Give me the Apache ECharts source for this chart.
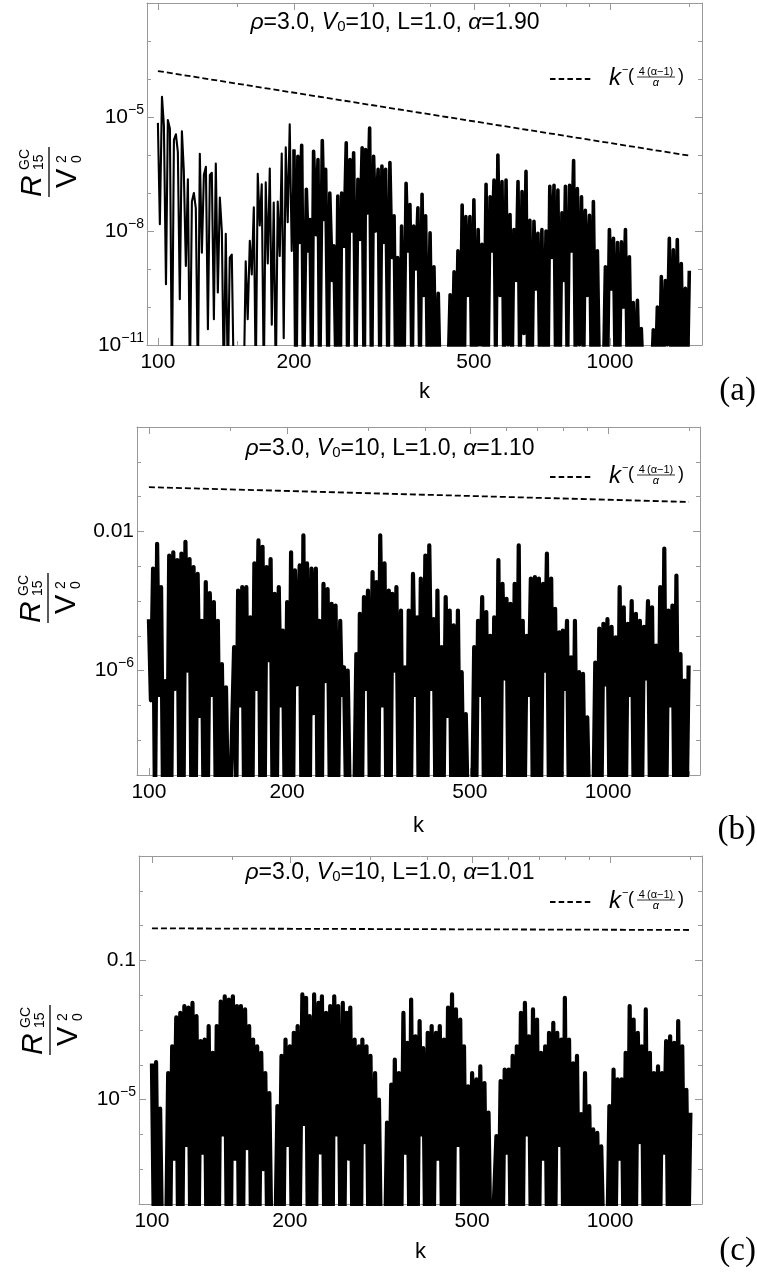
<!DOCTYPE html>
<html><head><meta charset="utf-8">
<script src="https://cdn.jsdelivr.net/npm/echarts@6/dist/echarts.min.js"></script>
<style>html,body{margin:0;padding:0;background:#fff}#c{width:757px;height:1285px}</style>
</head><body><div id="c"></div>
<script>
// ---------------- data ----------------
const K = [
100,101,102.1,103.1,104.2,105.2,106.3,107.4,108.5,109.6,
110.7,111.8,113,114.1,115.3,116.5,117.7,118.9,120.1,121.3,
122.6,123.8,125.1,126.4,127.7,129,130.3,131.6,133,134.3,
135.7,137.1,138.5,139.9,141.3,142.8,144.2,145.7,147.2,148.7,
150.2,151.7,153.3,154.9,156.4,158,159.7,161.3,163,164.6,
166.3,168,169.7,171.5,173.2,175,176.8,178.6,180.4,182.3,
184.1,186,187.9,189.8,191.8,193.7,195.7,197.7,
200,202,204,206,208,210,213,215,217,219,
221,224,226,228,231,233,235,238,240,243,
245,248,250,253,255,258,261,263,266,269,
271,274,277,280,283,286,288,291,294,297,
300,303,307,310,313,316,319,323,326,329,
333,336,339,343,346,350,354,357,361,365,
368,372,376,380,384,387,391,395,
400,404,408,412,417,421,425,430,434,438,
443,447,452,456,461,466,471,476,480,485,
490,495,500,506,511,516,521,526,532,537,
543,548,554,559,565,571,577,583,589,595,
601,607,613,620,626,632,639,645,652,658,
665,672,679,686,693,700,707,714,722,729,
736,744,752,759,767,775,783,791,
797,805,814,822,831,839,847,856,865,874,
882,891,901,910,919,929,938,948,957,967,
977,987,997,1008,1018,1028,1039,1049,1060,1071,
1082,1093,1104,1115,1126,1138,1150,1162,1173,1185,
1197,1209,1222,1235,1247,1260,1273,1286,1299,1312,
1326,1339,1353,1367,1381,1395,1409,1424,1438,1453,
1468,1483,1498
];

// panel (a), alpha = 1.90
const R_A = [
7e-6,1.5e-8,3.4e-5,6e-6,4e-10,8.3e-6,5e-6,1e-12,2.5e-6,3.5e-6,
1.2e-6,1.6e-10,4.2e-6,4e-7,1.2e-9,2.3e-7,1e-12,6e-8,1e-7,4e-8,
1e-12,1.07e-6,2.7e-9,3e-7,4.9e-7,2.6e-11,3e-7,3.4e-7,4.8e-11,6e-7,
2.4e-10,7.6e-8,1e-8,1e-12,8.5e-9,1e-12,2e-9,2.4e-9,1e-12,1e-12,
1e-12,1e-12,1e-12,1e-12,1.6e-9,4.8e-11,5.5e-9,7.2e-10,4.2e-8,1e-12,
3.2e-7,1.4e-8,1.7e-7,1e-12,1.9e-7,1.4e-9,4.4e-7,3.4e-11,5.6e-8,1e-12,
6e-8,2.2e-9,1.1e-6,1.5e-11,1.6e-6,1.7e-8,6.4e-6,3e-9,1.4e-6,1e-12,
9.3e-7,5e-9,1.8e-6,1e-12,1.25e-7,3e-9,2e-8,1e-12,1.26e-6,8e-9,
7.6e-7,1e-12,2.4e-6,2e-8,4.2e-7,1e-12,1e-7,5e-10,4.1e-9,1e-12,
8.3e-8,1e-12,1e-7,4e-9,2.1e-6,1e-12,7.6e-7,1e-8,1.15e-6,1e-12,
2.3e-7,6e-9,1.55e-6,1e-12,1.4e-6,3e-8,5.1e-6,1e-12,9.3e-7,1e-8,
4.2e-7,1e-12,5.1e-7,5e-9,4.2e-7,1e-12,6.3e-7,2e-9,2.5e-8,1e-12,
2e-9,1e-12,1.35e-8,1e-12,1.8e-7,3e-9,5e-8,1e-12,1.35e-8,1e-9,
4.1e-8,1e-12,9.2e-8,2e-10,2.5e-8,1e-12,9e-9,1e-12,1.15e-9,1e-12,
2.3e-10,1e-12,1e-12,1e-12,1e-12,1e-12,2.1e-10,1e-12,8.5e-10,1e-12,
3e-9,1e-12,4.8e-8,1e-12,2.4e-8,2e-10,2.4e-8,1e-12,6.6e-8,1e-12,
1.1e-8,1e-11,4.5e-9,1e-12,1.7e-7,1e-12,8e-8,3e-9,2.2e-7,1e-12,
1e-6,2e-10,2e-7,1e-12,2.2e-7,1e-11,2.7e-8,1e-12,1.1e-8,5e-10,
2e-7,1e-12,1.1e-7,2e-11,3.7e-7,1e-12,1.9e-8,1e-12,1.8e-8,3e-10,
8.7e-9,1e-12,1.1e-8,1e-12,1e-8,1e-12,1.5e-7,2e-9,1.6e-7,1e-12,
1.2e-7,1e-12,3e-8,5e-10,1.5e-7,1e-12,1.6e-7,3e-9,7.1e-7,1e-12,
1.3e-7,1e-11,8e-8,1e-12,3.5e-8,2e-10,2.6e-8,1e-12,6e-8,1e-12,
3e-9,1e-12,1e-12,1e-12,1.15e-9,1e-12,1.1e-8,3e-10,6.4e-9,1e-12,
5e-9,1e-12,5.2e-9,1e-10,1.1e-8,1e-12,2.1e-9,1e-12,1.3e-10,1e-12,
1.5e-10,1e-12,2.7e-11,1e-12,1e-12,1e-12,1e-12,1e-12,2.5e-11,1e-12,
1e-10,1e-12,6.3e-10,1e-12,5e-10,1e-11,6.4e-9,1e-12,3.2e-9,1e-12,
6e-9,1e-12,1.4e-9,1e-12,3.1e-10,1e-12,9e-10
];

// panel (b), alpha = 1.10
const R_B = [
3e-5,1.4e-7,8.5e-4,1e-10,4.4e-3,2e-7,2.5e-4,1e-10,5e-7,1e-10,
2e-3,1e-10,2.5e-3,3e-7,1.5e-3,1e-10,2.3e-3,1e-10,5e-3,1e-6,
1.6e-3,1e-10,9.4e-4,1e-10,6e-4,5e-8,2.7e-5,1e-10,3.5e-4,1e-10,
1.7e-4,2e-7,9.3e-5,1e-10,2.7e-5,1e-10,1.55e-6,1e-10,3.3e-7,1e-10,
1e-10,1e-10,4.7e-6,1e-10,2e-4,1e-7,2.5e-4,1e-10,2.5e-4,1e-10,
3.4e-5,1e-10,1.2e-3,3e-7,5.5e-3,1e-10,3.6e-3,1e-10,9.4e-4,2e-6,
1.6e-3,1e-10,1.6e-4,1e-10,2.5e-4,1e-7,1.4e-5,1e-10,9.3e-5,1e-10,
2.5e-3,1e-10,7.6e-4,4e-7,1.05e-3,1e-10,7.7e-3,1e-10,1.2e-3,1e-10,
8.5e-4,6e-8,8.5e-4,1e-10,2.7e-5,1e-10,3.1e-4,5e-7,2.2e-4,1e-10,
8.3e-5,1e-10,7.4e-5,1e-10,2.7e-5,2e-7,1.25e-6,1e-10,1e-6,1e-10,
1e-10,1e-10,3e-6,1e-10,4.3e-5,1e-10,1.3e-4,3e-7,2e-4,1e-10,
6.8e-4,1e-10,3.5e-4,1e-10,7.7e-3,1e-7,1.2e-3,1e-10,2e-4,1e-10,
1.6e-4,1e-6,2.5e-4,1e-10,5.3e-5,1e-10,1.25e-6,1e-10,5.3e-5,1e-10,
6e-4,2e-7,3.4e-5,1e-10,4.4e-4,1e-10,2e-3,1e-10,4e-3,3e-7,
3e-5,1e-10,2e-4,1e-10,4.7e-6,1e-10,1.3e-4,5e-8,5.3e-5,1e-10,
2e-5,1e-10,5.3e-5,1e-10,9e-7,1e-10,5.6e-8,1e-10,1e-10,1e-10,
4.7e-6,1e-10,2.7e-5,2e-7,1.3e-4,1e-10,4.8e-5,1e-10,1e-5,1e-10,
3.4e-5,1e-10,1.5e-3,1e-10,3.1e-4,6e-7,1.15e-4,1e-10,8.3e-5,1e-10,
3.1e-4,1e-10,4e-3,1e-10,2.7e-5,1e-10,1e-5,2e-7,4.4e-4,1e-10,
4.9e-4,1e-10,4.4e-4,1e-10,3.1e-4,1e-6,2.3e-3,1e-10,4.4e-4,1e-10,
5.9e-5,1e-10,1.26e-5,1e-10,1.4e-5,3e-7,2.7e-5,1e-10,2.4e-6,1e-10,
2.7e-5,1e-10,9e-7,1e-10,8e-7,1e-10,4.5e-8,1e-10,1e-10,1e-10,
1.7e-6,1e-10,1.6e-5,1e-10,2.2e-5,4e-7,3e-5,1e-10,1.8e-5,1e-10,
9.1e-6,1e-10,2.5e-4,1e-10,6.6e-5,1e-10,2.2e-5,2e-7,1e-4,1e-10,
4.3e-5,1e-10,2.7e-5,1e-10,1.8e-5,6e-7,1e-4,1e-10,6.6e-5,1e-10,
5.2e-6,1e-10,2.5e-4,1e-10,3.2e-3,1e-10,5.3e-5,1e-7,7.4e-5,1e-10,
5.4e-4,1e-10,3e-6,1e-10,5.2e-7,1e-10,1.4e-6
];

// panel (c), alpha = 1.01
const R_C = [
1.1e-4,1e-9,1.2e-4,1e-9,5.5e-6,1e-9,1e-9,1e-9,5.8e-5,1e-9,
3.4e-4,2e-7,2.3e-3,1e-9,3.1e-3,1e-9,4.9e-3,5e-7,4.4e-3,1e-9,
6e-3,1e-9,2.5e-3,1e-9,4.8e-4,3e-7,5.3e-4,1e-9,1.3e-3,1e-9,
2.2e-4,1e-9,1.3e-3,1e-9,6.5e-3,1e-6,9.3e-3,1e-9,7.5e-3,1e-9,
9.3e-3,2e-7,4.9e-3,1e-9,4.9e-3,1e-9,3.9e-3,4e-7,1.3e-3,1e-9,
5.3e-4,1e-9,3.4e-4,1e-9,2.2e-4,1e-7,5.8e-5,1e-9,1.55e-5,1e-9,
1e-9,1e-9,6.5e-6,1e-9,1.8e-4,1e-9,5.3e-4,5e-7,3.4e-4,1e-9,
8.3e-4,1e-9,1.3e-3,1e-9,1.05e-2,2e-6,8.4e-3,1e-9,2.5e-3,1e-9,
1.05e-2,1e-9,6e-3,3e-7,9.3e-3,1e-9,3.1e-3,1e-9,4.9e-3,1e-9,
9.3e-3,1e-6,4.9e-3,1e-9,6e-3,1e-9,3.1e-3,2e-7,4.4e-3,1e-9,
5.3e-4,1e-9,3.4e-4,1e-9,5.3e-4,6e-7,3.4e-4,1e-9,1.8e-4,1e-9,
5.8e-5,1e-9,1e-5,1e-9,1e-9,1e-9,2.2e-6,1e-9,2.7e-5,1e-9,
1.4e-4,1e-9,5.8e-5,1e-9,3.1e-3,3e-7,4.3e-4,1e-9,7.5e-3,1e-9,
6.6e-4,1e-9,1.8e-3,1e-6,3e-4,1e-9,8.3e-4,1e-9,1.3e-3,1e-9,
8.3e-4,2e-7,1.3e-3,1e-9,5.3e-4,1e-9,4.4e-3,1e-9,1.05e-2,1e-9,
3.9e-3,5e-7,2e-3,1e-9,3.4e-4,1e-9,2.4e-5,1e-9,5.8e-5,1e-9,
3.8e-5,1e-9,9.1e-5,1e-9,3e-5,1e-9,4.2e-6,1e-9,1e-9,1e-9,
9e-7,1e-9,3.4e-5,1e-9,7.3e-5,3e-7,7.3e-5,1e-9,1.8e-4,1e-9,
3.4e-4,1e-9,3.1e-3,1e-9,6e-3,1e-6,6.6e-4,1e-9,3.9e-3,1e-9,
2e-3,1e-9,2.2e-4,2e-7,3.4e-4,1e-9,8.3e-4,1e-9,1.6e-3,1e-9,
8.3e-4,5e-7,5.3e-4,1e-9,8.4e-3,1e-9,5.3e-4,1e-9,1.1e-4,1e-9,
1.8e-4,1e-9,3.8e-6,1e-9,5.8e-5,1e-9,6.5e-6,1e-9,1.4e-6,1e-9,
1.1e-6,1e-9,4.5e-7,1e-9,1e-9,1e-9,6.5e-6,1e-9,7.3e-5,1e-9,
3.8e-5,2e-7,3.8e-5,1e-9,2.2e-4,1e-9,4.9e-3,1e-9,2e-3,1e-9,
8.3e-4,6e-7,3.4e-4,1e-9,3.9e-3,1e-9,2.2e-4,1e-9,5.8e-5,1e-9,
9.1e-5,1e-9,5.8e-5,3e-7,4.8e-4,1e-9,6.6e-4,1e-9,4.3e-4,1e-9,
1.8e-3,1e-9,3.4e-4,1e-9,1.9e-5,1e-9,4.2e-6
];

// dashed reference line k^-(4(alpha-1)/alpha), end points
const DASH_K = [100, 1500];
const DASH_A = [1.62e-4, 9.6e-7];
const DASH_B = [0.187, 0.070];
const DASH_C = [0.833, 0.748];

// tick values
const X_MAJOR = [100, 200, 500, 1000];
const X_MINOR = [150, 300, 400, 600, 700, 800, 900, 1500];
const X_LABELS = [100, 200, 500, 1000];
const YA_MAJOR = [1e-11, 1e-8, 1e-5, 1e-2];
const YA_MINOR = [1e-10, 1e-9, 1e-7, 1e-6, 1e-4, 1e-3];
const YA_LABELS = [1e-11, 1e-8, 1e-5];
const YB_MAJOR = [1e-6, 1e-2];
const YB_MINOR = [1e-9, 1e-8, 1e-7, 1e-5, 1e-4, 1e-3, 0.1, 1, 10];
const YB_LABELS = [1e-6, 1e-2];
const YC_MAJOR = [1e-5, 0.1];
const YC_MINOR = [1e-8, 1e-7, 1e-6, 1e-4, 1e-3, 1e-2, 1, 10, 100];
const YC_LABELS = [1e-5, 0.1];
const ALPHAS = ['1.90', '1.10', '1.01'];
const TAGS = ['(a)', '(b)', '(c)'];

// ---------------- layout ----------------
const F = "'Liberation Sans', Arial, Helvetica, sans-serif";
const FRAME = '#999';
const SPLIT_A = 68;
const PANELS = [
  {grid:{left:147,top:3,width:555,height:342}, xr:[94.6,1598], yr:[1e-11,1e-2], vals:R_A, dash:DASH_A,
   yMaj:YA_MAJOR, yMin:YA_MINOR, yLab:YA_LABELS, nameGap:36, titleY:23, titleX:395, kb:87, yn:[49,172], tagY:391,
   thinUntil:SPLIT_A, denseW:3.6},
  {grid:{left:137,top:427,width:563,height:348}, xr:[94.2,1586], yr:[1e-9,10], vals:R_B, dash:DASH_B,
   yMaj:YB_MAJOR, yMin:YB_MINOR, yLab:YB_LABELS, nameGap:40, titleY:449, titleX:390, kb:485, yn:[48,598], tagY:830,
   thinUntil:0, denseW:4.2},
  {grid:{left:139,top:856,width:563,height:348}, xr:[93.7,1588], yr:[1e-8,100], vals:R_C, dash:DASH_C,
   yMaj:YC_MAJOR, yMin:YC_MINOR, yLab:YC_LABELS, nameGap:37, titleY:873, titleX:390, kb:910, yn:[50,1030], tagY:1251,
   thinUntil:0, denseW:4.2}
];

const grids = [], xAxes = [], yAxes = [], series = [], graphic = [];
PANELS.forEach((p, gi) => {
  grids.push(Object.assign({containLabel:false}, p.grid));
  const xBase = {gridIndex:gi, type:'log', logBase:10, min:p.xr[0], max:p.xr[1], splitLine:{show:false}, minorTick:{show:false}, axisPointer:{show:false}};
  xAxes.push(Object.assign({}, xBase, {position:'bottom',
    axisLine:{show:true, onZero:false, lineStyle:{color:FRAME, width:1}},
    axisTick:{show:true, inside:true, length:7, customValues:X_MAJOR, lineStyle:{color:FRAME, width:1}},
    axisLabel:{show:true, customValues:X_LABELS, margin:7, fontSize:21, fontFamily:F, color:'#000', formatter:(v)=>String(Math.round(v))},
    name:'k', nameLocation:'middle', nameGap:p.nameGap, nameTextStyle:{fontSize:22, fontFamily:F, color:'#000'}}));
  xAxes.push(Object.assign({}, xBase, {position:'bottom', axisLine:{show:false, onZero:false},
    axisTick:{show:true, inside:true, length:4, customValues:X_MINOR, lineStyle:{color:FRAME, width:1}}, axisLabel:{show:false}}));
  xAxes.push(Object.assign({}, xBase, {position:'top', axisLine:{show:true, onZero:false, lineStyle:{color:FRAME, width:1}},
    axisTick:{show:true, inside:true, length:7, customValues:X_MAJOR, lineStyle:{color:FRAME, width:1}}, axisLabel:{show:false}}));
  xAxes.push(Object.assign({}, xBase, {position:'top', axisLine:{show:false, onZero:false},
    axisTick:{show:true, inside:true, length:4, customValues:X_MINOR, lineStyle:{color:FRAME, width:1}}, axisLabel:{show:false}}));

  const yBase = {gridIndex:gi, type:'log', logBase:10, min:p.yr[0], max:p.yr[1], splitLine:{show:false}, minorTick:{show:false}, axisPointer:{show:false}};
  const plainLabel = gi === 1 ? 1e-2 : (gi === 2 ? 0.1 : null);
  yAxes.push(Object.assign({}, yBase, {position:'left',
    axisLine:{show:true, onZero:false, lineStyle:{color:FRAME, width:1}},
    axisTick:{show:true, inside:true, length:7, customValues:p.yMaj, lineStyle:{color:FRAME, width:1}},
    axisLabel:{show:true, customValues:p.yLab, margin:3, fontSize:21, fontFamily:F, color:'#000',
      formatter:(v)=>{
        const e = Math.round(Math.log10(v));
        if (plainLabel !== null && Math.abs(Math.log10(v) - Math.log10(plainLabel)) < 0.01) return '{b|' + String(plainLabel) + '}';
        return '{b|10}{s|\u2212' + Math.abs(e) + '}';
      },
      rich:{b:{fontSize:21, fontFamily:F, color:'#000', lineHeight:28}, s:{fontSize:14, fontFamily:F, color:'#000', verticalAlign:'top'}}}}));
  yAxes.push(Object.assign({}, yBase, {position:'left', axisLine:{show:false, onZero:false},
    axisTick:{show:true, inside:true, length:4, customValues:p.yMin, lineStyle:{color:FRAME, width:1}}, axisLabel:{show:false}}));
  yAxes.push(Object.assign({}, yBase, {position:'right', axisLine:{show:true, onZero:false, lineStyle:{color:FRAME, width:1}},
    axisTick:{show:true, inside:true, length:7, customValues:p.yMaj, lineStyle:{color:FRAME, width:1}}, axisLabel:{show:false}}));
  yAxes.push(Object.assign({}, yBase, {position:'right', axisLine:{show:false, onZero:false},
    axisTick:{show:true, inside:true, length:4, customValues:p.yMin, lineStyle:{color:FRAME, width:1}}, axisLabel:{show:false}}));

  const pts = K.map((k,i)=>[k, p.vals[i]]);
  if (p.thinUntil > 0) {
    series.push({type:'line', xAxisIndex:gi*4, yAxisIndex:gi*4, data:pts.slice(0, p.thinUntil + 1),
      symbol:'none', showSymbol:false, clip:true, silent:true, animation:false, z:3,
      lineStyle:{color:'#000', width:2.1, join:'round'}});
  }
  series.push({type:'line', xAxisIndex:gi*4, yAxisIndex:gi*4, data:pts.slice(p.thinUntil),
    symbol:'none', showSymbol:false, clip:true, silent:true, animation:false, z:3,
    lineStyle:{color:'#000', width:p.denseW, join:'round'}});
  series.push({type:'line', xAxisIndex:gi*4, yAxisIndex:gi*4, data:DASH_K.map((k,i)=>[k, p.dash[i]]),
    symbol:'none', showSymbol:false, clip:true, silent:true, animation:false, z:4,
    lineStyle:{color:'#000', width:1.8, type:[6,3]}});

  graphic.push({type:'text', x:p.titleX, y:p.titleY, silent:true, style:{
    text:'{i|\u03c1}=3.0, {i|V}{s|0}=10, L=1.0, {i|\u03b1}=' + ALPHAS[gi],
    font:'23px ' + F, fontSize:23, fontFamily:F, fill:'#000', align:'center', verticalAlign:'middle',
    rich:{i:{fontStyle:'italic', fontSize:23, fontFamily:F, fill:'#000'}, s:{fontSize:15, fontFamily:F, fill:'#000', verticalAlign:'bottom'}}}});
  const kb = p.kb;
  graphic.push({type:'line', silent:true, shape:{x1:550, y1:kb-8, x2:593, y2:kb-8}, style:{stroke:'#000', lineWidth:1.8, lineDash:[5.5,3.2]}});
  graphic.push({type:'text', silent:true, x:609, y:kb-8.4, style:{text:'k', font:'italic 24px ' + F, fill:'#000', align:'left', verticalAlign:'middle'}});
  graphic.push({type:'text', silent:true, x:622, y:kb-17.5, style:{text:'\u2212', font:'11px ' + F, fill:'#000', align:'left', verticalAlign:'middle'}});
  graphic.push({type:'text', silent:true, x:628, y:kb-10.5, style:{text:'(', font:'18px ' + F, fill:'#000', align:'left', verticalAlign:'middle'}});
  graphic.push({type:'text', silent:true, x:656, y:kb-15, style:{text:'4\u2009(\u03b1\u22121)', font:'11px ' + F, fill:'#000', align:'center', verticalAlign:'middle'}});
  graphic.push({type:'line', silent:true, shape:{x1:637, y1:kb-10, x2:675, y2:kb-10}, style:{stroke:'#000', lineWidth:0.8}});
  graphic.push({type:'text', silent:true, x:656, y:kb-4.5, style:{text:'\u03b1', font:'italic 11px ' + F, fill:'#000', align:'center', verticalAlign:'middle'}});
  graphic.push({type:'text', silent:true, x:678, y:kb-10.5, style:{text:')', font:'18px ' + F, fill:'#000', align:'left', verticalAlign:'middle'}});
  graphic.push({type:'group', x:p.yn[0], y:p.yn[1], rotation:Math.PI/2, silent:true, children:[
    {type:'line', shape:{x1:-25, y1:0, x2:25, y2:0}, style:{stroke:'#000', lineWidth:1.3}},
    {type:'text', x:-25, y:-16.5, style:{text:'R', font:'italic 30px ' + F, fill:'#000', align:'left', verticalAlign:'middle'}},
    {type:'text', x:2, y:-24, style:{text:'GC', font:'14px ' + F, fill:'#000', align:'left', verticalAlign:'middle'}},
    {type:'text', x:2, y:-10, style:{text:'15', font:'14px ' + F, fill:'#000', align:'left', verticalAlign:'middle'}},
    {type:'text', x:-16, y:18.8, style:{text:'V', font:'29px ' + F, fill:'#000', align:'left', verticalAlign:'middle'}},
    {type:'text', x:9, y:13, style:{text:'2', font:'14px ' + F, fill:'#000', align:'left', verticalAlign:'middle'}},
    {type:'text', x:9, y:28, style:{text:'0', font:'14px ' + F, fill:'#000', align:'left', verticalAlign:'middle'}}
  ]});
  graphic.push({type:'text', silent:true, x:756, y:p.tagY, style:{text:TAGS[gi], font:"33px 'Liberation Serif', 'DejaVu Serif', serif", fill:'#000', align:'right', verticalAlign:'middle'}});
});

const chart = echarts.init(document.getElementById('c'), null, {renderer:'canvas', width:757, height:1285});
chart.setOption({
  animation:false,
  backgroundColor:'#fff',
  grid:grids, xAxis:xAxes, yAxis:yAxes, series:series, graphic:graphic
});
</script>
</body></html>
